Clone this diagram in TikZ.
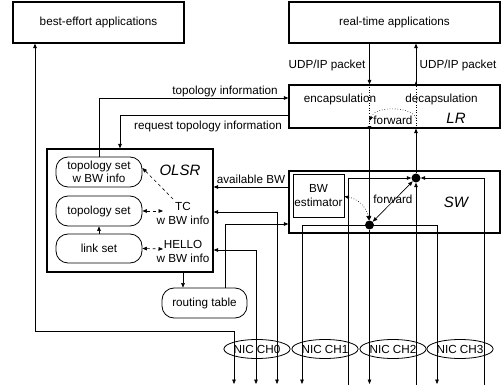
\documentclass[tikz,border=0pt]{standalone}
\usepackage{fontspec}
\setmainfont{Liberation Sans}
\usetikzlibrary{arrows.meta,shapes.geometric}
\begin{document}
\begin{tikzpicture}[x=1pt,y=-1pt,
  font=\fontsize{11.7}{14}\selectfont,
  bigbox/.style={draw, line width=1.3pt, rectangle, inner sep=0pt},
  rbox/.style={draw, line width=0.8pt, rounded corners=12pt, inner sep=0pt, align=center, minimum width=86pt},
  nic/.style={draw, ellipse, line width=0.8pt, minimum width=62pt, minimum height=19pt, inner sep=0pt},
  dot/.style={circle, fill, minimum size=9pt, inner sep=0pt},
  ital/.style={font=\fontsize{15}{18}\selectfont\itshape},
  ln/.style={line width=0.6pt},
  tip/.tip={Triangle[length=4.5pt,width=3.6pt]},
  arr/.style={ln, -tip},
  darr/.style={ln, tip-tip}
]
\useasboundingbox (0,0) rectangle (501,385);

% big boxes
\node[bigbox, minimum width=171pt, minimum height=41pt] (be) at (98.5,22.5) {best-effort applications};
\node[bigbox, minimum width=211pt, minimum height=41pt] (rt) at (394.5,22.5) {real-time applications};
\node[bigbox, minimum width=211pt, minimum height=43pt] (lr) at (394.5,106.5) {};
\node[bigbox, minimum width=211pt, minimum height=62pt] (sw) at (394.5,202) {};
\node[bigbox, minimum width=166pt, minimum height=123pt] (olsr) at (130,210.5) {};

% OLSR internals
\node[rbox, minimum height=30pt] (tsbw) at (99,172) {topology set\\[-1pt]w BW info};
\node[rbox, minimum height=30pt] (ts) at (99,211) {topology set};
\node[rbox, minimum height=29pt] (ls) at (99,248.5) {link set};
\node[ital] (olsrl) at (180,170) {OLSR};
\node[align=center] (tc) at (183,213.5) {TC\\w BW info};
\node[align=center] (hello) at (183,251) {HELLO\\w BW info};
\node[rbox, minimum width=85pt, minimum height=30pt] (rtab) at (204.5,303) {routing table};

% LR internals
\node (enc) at (340,99) {encapsulation};
\node (dec) at (441.5,99) {decapsulation};
\node (fwd1) at (393,120) {forward};
\node[ital] (lrl) at (456,118) {LR};

% SW internals
\node[draw, line width=0.8pt, minimum width=51pt, minimum height=43pt, align=center, inner sep=0pt] (bwe) at (318.5,195.5) {BW\\estimator};
\node (fwd2) at (393,199) {forward};
\node[ital] (swl) at (456,202) {SW};
\node[dot] (d1) at (416,178) {};
\node[dot] (d2) at (369.5,225) {};

% NICs
\node[nic] (nic0) at (257,349) {NIC CH0};
\node[nic] (nic1) at (325,349) {NIC CH1};
\node[nic] (nic2) at (393,349) {NIC CH2};
\node[nic] (nic3) at (460,349) {NIC CH3};

% labels
\node (udp1) at (327,65) {UDP/IP packet};
\node (udp2) at (458,65) {UDP/IP packet};
\node (topinfo) at (225,91) {topology information};
\node (reqinfo) at (208,126) {request topology information};
\node (avbw) at (251,179) {available BW};

% free ends
\coordinate (b234) at (234,384);
\coordinate (b256) at (256,384);
\coordinate (b277) at (277,384);
\coordinate (b302) at (302,384);
\coordinate (b348) at (348,385);
\coordinate (b370) at (369.5,384);
\coordinate (b416) at (416,385);
\coordinate (b437) at (437,384);
\coordinate (b484) at (484,385);
\coordinate (k1) at (35,331);
\coordinate (tcs) at (173,199);
\coordinate (tce) at (163,211);
\coordinate (hee) at (163,249);
\coordinate (fa) at (416,118);
\coordinate (fb) at (369.5,121);

% application <-> LR
\draw[arr] (rt.south -| d2) -- (lr.north -| d2);
\draw[arr] (lr.north -| d1) -- (rt.south -| d1);
\draw[ln, dotted, -tip] (lr.north -| d2) -- ([yshift=-2pt]lr.south -| d2);
\draw[ln, dotted, -tip] (lr.south -| d1) -- ([yshift=3pt]lr.north -| d1);
\draw[ln, dotted, -tip] (fa) .. controls (411,106) and (375,106) .. (fb);

% LR <-> SW
\draw[arr] (lr.south -| d2) -- (d2);
\draw[arr] (d1) -- (lr.south -| d1);
\draw[darr] (d1) -- (d2);
\draw[ln, dotted, tip-tip] ([yshift=-1pt]bwe.east) to[bend left=35] (d2);

% NIC lines into SW
\draw[arr] (b348) |- (d1);
\draw[arr] (b484) |- (d1);
\draw[arr] (b416) -- (d1);
\draw[arr] (d2.center) -| (b302);
\draw[arr] (d2.center) -| (b437);
\draw[arr] (d2) -- (b370);

% OLSR connections
\draw[arr] (tsbw.north) |- (lr.west |- 0,98);
\draw[arr] (lr.west |- 0,115) -| (olsr.north -| 120,0);
\draw[arr] (sw.west |- 0,187) -- (olsr.east |- 0,187);
\draw[arr] (olsr.south -| 183,0) -- (rtab.north -| 183,0);
\draw[arr] (rtab.north -| 225,0) |- (sw.west |- 0,224);
\draw[darr] (b277) |- (olsr.east |- 0,212);
\draw[darr] (b256) |- (olsr.east |- 0,250);
\draw[darr] (b234) |- (k1) -- (be.south -| k1);

% OLSR internals arrows
\draw[arr] (ls) -- (ts);
\draw[ln, dashed, -tip] (tcs) -- ([yshift=4pt]tsbw.east);
\draw[ln, dashed, tip-tip] (ts.east) -- (tce);
\draw[ln, dashed, tip-tip] (ls.east) -- (hee);
\end{tikzpicture}
\end{document}
